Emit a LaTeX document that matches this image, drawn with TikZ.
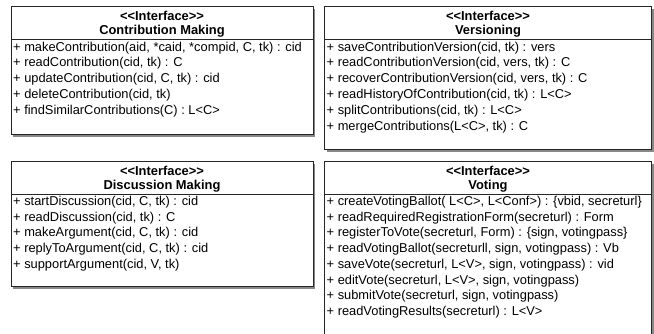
\documentclass[tikz,border=0pt]{standalone}
\usepackage{fontspec}
\newfontfamily\umlfont{Liberation Sans}
\usetikzlibrary{shadows}
\tikzset{
  umlbox/.style={draw=black!85, line width=0.9pt, fill=white, anchor=north west, inner sep=0pt, outer sep=0pt,
    drop shadow={shadow xshift=2pt, shadow yshift=-2.5pt, fill=black!55, opacity=0.85}},
  hdr/.style={font=\umlfont\bfseries\fontsize{12.9}{14}\selectfont, inner sep=0pt, anchor=base},
  meth/.style={font=\umlfont\fontsize{12.85}{15.8}\selectfont, inner sep=0pt, anchor=base west},
  sep/.style={draw=black!85, line width=0.9pt}
}
\begin{document}
\begin{tikzpicture}[x=1pt,y=-1pt]
\useasboundingbox (0,0) rectangle (654,333);
% Contribution Making
\node[umlbox, minimum width=302pt, minimum height=128pt] (cm) at (11,6) {};
\coordinate (cmL) at (11,39);
\coordinate (cmR) at (313,39);
\draw[sep] (cmL) -- (cmR);
\node[hdr] (cmh1) at (162,20) {<<Interface>>};
\node[hdr] (cmh2) at (162,34) {Contribution Making};
\foreach \t [count=\i] in {{+ makeContribution(aid, *caid, *compid, C, tk) : cid},
{+ readContribution(cid, tk) : C},
{+ updateContribution(cid, C, tk) : cid},
{+ deleteContribution(cid, tk)},
{+ findSimilarContributions(C) : L<C>}}
  \node[meth] (cm\i) at ({13},{51+15.8*(\i-1)}) {\t};
% Versioning
\node[umlbox, minimum width=327pt, minimum height=143.5pt] (ve) at (324.5,6) {};
\coordinate (veL) at (324.5,39);
\coordinate (veR) at (651.5,39);
\draw[sep] (veL) -- (veR);
\node[hdr] (veh1) at (488,20) {<<Interface>>};
\node[hdr] (veh2) at (488,34) {Versioning};
\foreach \t [count=\i] in {{+ saveContributionVersion(cid, tk) : vers},
{+ readContributionVersion(cid, vers, tk) : C},
{+ recoverContributionVersion(cid, vers, tk) : C},
{+ readHistoryOfContribution(cid, tk) : L<C>},
{+ splitContributions(cid, tk) : L<C>},
{+ mergeContributions(L<C>, tk) : C}}
  \node[meth] (ve\i) at ({326.5},{51+15.8*(\i-1)}) {\t};
% Discussion Making
\node[umlbox, minimum width=302pt, minimum height=125pt] (dm) at (11,161) {};
\coordinate (dmL) at (11,194);
\coordinate (dmR) at (313,194);
\draw[sep] (dmL) -- (dmR);
\node[hdr] (dmh1) at (162,175) {<<Interface>>};
\node[hdr] (dmh2) at (162,189) {Discussion Making};
\foreach \t [count=\i] in {{+ startDiscussion(cid, C, tk) : cid},
{+ readDiscussion(cid, tk) : C},
{+ makeArgument(cid, C, tk) : cid},
{+ replyToArgument(cid, C, tk) : cid},
{+ supportArgument(cid, V, tk)}}
  \node[meth] (dm\i) at ({13},{205.5+15.7*(\i-1)}) {\t};
% Voting
\node[umlbox, minimum width=327pt, minimum height=180pt] (vo) at (324.5,161) {};
\coordinate (voL) at (324.5,194);
\coordinate (voR) at (651.5,194);
\draw[sep] (voL) -- (voR);
\node[hdr] (voh1) at (488,175) {<<Interface>>};
\node[hdr] (voh2) at (488,189) {Voting};
\foreach \t [count=\i] in {{+ createVotingBallot( L<C>, L<Conf>) : \{vbid, secreturl\}},
{+ readRequiredRegistrationForm(secreturl) : Form},
{+ registerToVote(secreturl, Form) : \{sign, votingpass\}},
{+ readVotingBallot(secreturll, sign, votingpass) : Vb},
{+ saveVote(secreturl, L<V>, sign, votingpass) : vid},
{+ editVote(secreturl, L<V>, sign, votingpass)},
{+ submitVote(secreturl, sign, votingpass)},
{+ readVotingResults(secreturl) : L<V>}}
  \node[meth] (vo\i) at ({326.5},{205.5+15.7*(\i-1)}) {\t};
\end{tikzpicture}
\end{document}
